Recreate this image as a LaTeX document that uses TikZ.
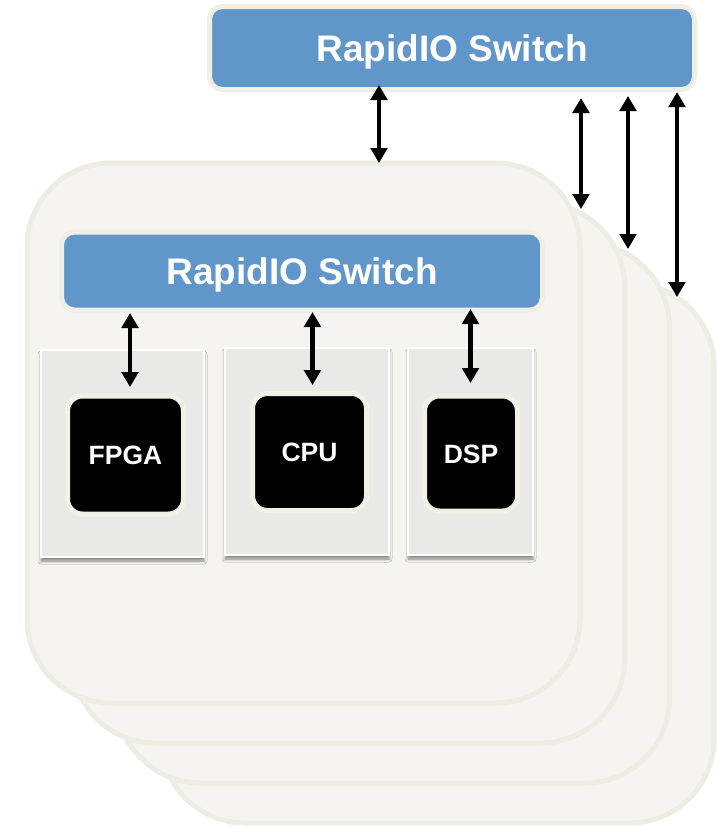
\documentclass[tikz,border=0pt]{standalone}
\usepackage{fontspec}
\setmainfont{Liberation Sans}
\usetikzlibrary{arrows.meta,shadows.blur}
\definecolor{cardfill}{HTML}{F5F4F0}
\definecolor{cardline}{HTML}{EDEDE3}
\definecolor{swblue}{HTML}{6096C9}
\definecolor{swline}{HTML}{EFEFE6}
\definecolor{boardfill}{HTML}{E9EAE8}
\definecolor{chipline}{HTML}{F3F1E6}
\tikzset{
  card/.style={rectangle, draw=cardline, fill=cardfill, line width=5pt, rounded corners=84pt,
    minimum width=553pt, minimum height=540pt, inner sep=0pt},
  switchbox/.style={rectangle, draw=swline, fill=swblue, line width=5pt, rounded corners=13pt,
    text=white, font=\bfseries\fontsize{37}{37}\selectfont, inner sep=0pt,
    text height=26.5pt, text depth=0pt},
  board/.style={rectangle, draw=white, fill=boardfill, line width=1.5pt, inner sep=0pt,
    blur shadow={shadow xshift=0pt, shadow yshift=-4pt, shadow blur radius=3pt, shadow opacity=45}},
  chip/.style={rectangle, draw=chipline, fill=black, line width=5pt, rounded corners=15pt,
    text=white, font=\bfseries\fontsize{26.5}{26.5}\selectfont, inner sep=0pt,
    text height=19pt, text depth=0pt},
  biarrow/.style={line width=4.5pt, {Triangle[width=16.5pt,length=15pt]}-{Triangle[width=16.5pt,length=15pt]}}
}
\begin{document}
\begin{tikzpicture}[x=1pt,y=-1pt]
\useasboundingbox (0,0) rectangle (717,828);
% stacked boards (back to front)
\node[card] (card4) at (437.6,553) {};
\node[card] (card3) at (392.9,513) {};
\node[card] (card2) at (348.2,473) {};
\node[card] (card1) at (303.5,433) {};
% top switch
\node[switchbox, minimum width=485pt, minimum height=83pt] (topsw) at (452,48) {RapidIO Switch};
% board switch
\node[switchbox, minimum width=481pt, minimum height=78pt] (bsw) at (302,271) {RapidIO Switch};
% processor boards
\node[board, minimum width=163pt, minimum height=207pt] (bfpga) at (122.5,453.5) {};
\node[board, minimum width=164pt, minimum height=207pt] (bcpu) at (307,451.5) {};
\node[board, minimum width=125pt, minimum height=207pt] (bdsp) at (470.5,451.5) {};
% chips
\node[chip, minimum width=116pt, minimum height=118pt] (fpga) at (125.5,455) {FPGA};
\node[chip, minimum width=114pt, minimum height=117pt] (cpu) at (309.5,452) {CPU};
\node[chip, minimum width=93pt, minimum height=115pt] (dsp) at (471,453.5) {DSP};
% arrow end points on the stacked boards
\coordinate (t1) at (379,163);
\coordinate (t2) at (581,209);
\coordinate (t3) at (628,249);
\coordinate (t4) at (677,297);
\coordinate (s1) at (379,85);
\coordinate (s2) at (581,98);
\coordinate (s3) at (628,96);
\coordinate (s4) at (677,92);
\draw[biarrow] (s1) -- (t1);
\draw[biarrow] (s2) -- (t2);
\draw[biarrow] (s3) -- (t3);
\draw[biarrow] (s4) -- (t4);
% inner arrows
\coordinate (f1) at (130,313);
\coordinate (f2) at (130,387);
\coordinate (c1) at (312.5,312);
\coordinate (c2) at (312.5,385);
\coordinate (d1) at (470.5,309);
\coordinate (d2) at (470.5,383);
\draw[biarrow] (f1) -- (f2);
\draw[biarrow] (c1) -- (c2);
\draw[biarrow] (d1) -- (d2);
\end{tikzpicture}
\end{document}
